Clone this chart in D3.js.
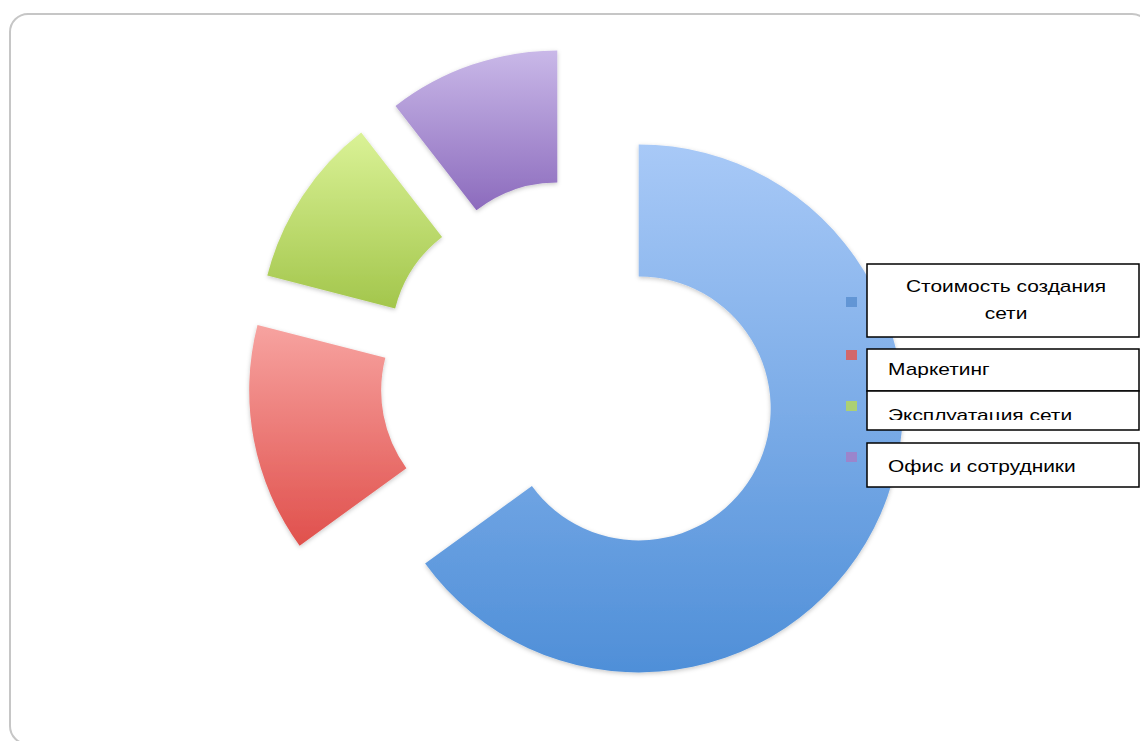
<!DOCTYPE html>
<html>
<head>
<meta charset="utf-8">
<script src="https://cdn.jsdelivr.net/npm/d3@7"></script>
<style>
	html, body {margin: 0; padding: 0; background: #fff;}
	svg {display: block;}
</style>
</head>
<body>
<div id="chart"></div>
<script>
(function() {
	// data (share of total, %)
	var categories = ['Стоимость создания сети', 'Маркетинг', 'Эксплуатация сети', 'Офис и сотрудники'];
	var values = [65, 14, 10.5, 10.5];
	var colorTop = ['#a8c9f7', '#f7a3a0', '#daf296', '#c9b8e8'];
	var colorBottom = ['#4f8fd8', '#e0504c', '#a3c64c', '#8c6bbd'];
	var legendColor = ['#5a8fd0', '#e05a55', '#b5d65e', '#a27fc8'];

	var width = 1140, height = 741;
	var cx = 579, cy = 378, outerR = 264, innerR = 132, explode = 67;

	var svg = d3.select('#chart').append('svg').attr('width', width).attr('height', height);
	var defs = svg.append('defs');

	var shadow = defs.append('filter').attr('id', 'shadow')
		.attr('x', '-10%').attr('y', '-10%').attr('width', '120%').attr('height', '120%');
	shadow.append('feDropShadow').attr('dx', 0).attr('dy', 1.5).attr('stdDeviation', 2)
		.attr('flood-color', '#000').attr('flood-opacity', 0.22);

	values.forEach(function(v, i) {
		var g = defs.append('linearGradient').attr('id', 'grad' + i)
			.attr('x1', 0).attr('y1', 0).attr('x2', 0).attr('y2', 1);
		g.append('stop').attr('offset', '0%').attr('stop-color', colorTop[i]);
		g.append('stop').attr('offset', '100%').attr('stop-color', colorBottom[i]);
	});

	// outer frame
	svg.append('rect')
		.attr('x', 10).attr('y', 14).attr('width', 1140).attr('height', 730)
		.attr('rx', 18).attr('ry', 18)
		.attr('fill', '#fff').attr('stroke', '#c6c6c6').attr('stroke-width', 2);

	var pie = d3.pie().sort(null).value(function(d) { return d; });
	var arc = d3.arc().innerRadius(innerR).outerRadius(outerR);
	var arcs = pie(values);

	svg.append('g').attr('transform', 'translate(' + cx + ',' + cy + ')')
		.selectAll('path').data(arcs).enter().append('path')
		.attr('transform', function(d) {
			var mid = (d.startAngle + d.endAngle) / 2;
			return 'translate(' + (explode * Math.sin(mid)) + ',' + (-explode * Math.cos(mid)) + ')';
		})
		.attr('d', arc)
		.attr('fill', function(d, i) { return 'url(#grad' + i + ')'; })
		.attr('filter', 'url(#shadow)');

	// legend
	var markerY = [302, 355, 406, 457];
	var boxes = [
		{y: 264, h: 73},
		{y: 349, h: 42},
		{y: 391, h: 39},
		{y: 443, h: 44}
	];

	defs.append('clipPath').attr('id', 'clip3')
		.append('rect').attr('x', 867).attr('y', 391).attr('width', 273).attr('height', 29);

	var legend = svg.append('g');
	legend.selectAll('rect.marker').data(categories).enter().append('rect')
		.attr('class', 'marker')
		.attr('x', 846).attr('y', function(d, i) { return markerY[i] - 5; })
		.attr('width', 11).attr('height', 10)
		.attr('fill', function(d, i) { return legendColor[i]; })
		.attr('opacity', 0.85);

	legend.selectAll('rect.box').data(categories).enter().append('rect')
		.attr('class', 'box')
		.attr('x', 867).attr('y', function(d, i) { return boxes[i].y; })
		.attr('width', 272).attr('height', function(d, i) { return boxes[i].h; })
		.attr('fill', '#fff').attr('stroke', '#000').attr('stroke-width', 1.5);

	// the labels in the picture are a stretched Arial
	var font = '"Liberation Sans", Arial, sans-serif';
	var label = function(parent, x, y, txt, anchor) {
		return parent.append('text')
			.attr('transform', 'translate(' + x + ',' + y + ') scale(1.23,1)')
			.attr('text-anchor', anchor || 'start')
			.style('font-family', font).style('font-size', '17px')
			.text(txt);
	};

	label(legend, 1006, 292, 'Стоимость создания', 'middle');
	label(legend, 1006, 319, 'сети', 'middle');
	label(legend, 888, 375, categories[1]);
	legend.append('g').attr('clip-path', 'url(#clip3)')
		.call(function(g) { label(g, 888, 421, categories[2]); });
	label(legend, 888, 472, categories[3]);
})();
</script>
</body>
</html>
